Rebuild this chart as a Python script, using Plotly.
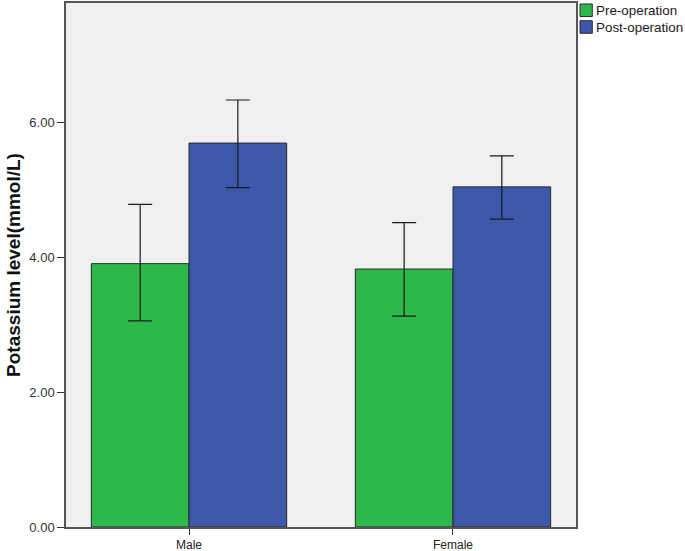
import plotly.graph_objects as go

# データ
categories = ["Male", "Female"]
pre_mean = [3.91, 3.83]
pre_upper = [4.79, 4.52]
pre_lower = [3.06, 3.13]
post_mean = [5.70, 5.05]
post_upper = [6.34, 5.51]
post_lower = [5.04, 4.57]
series_names = ["Pre-operation", "Post-operation"]
series_colors = ["#2eb84b", "#3d57a9"]

W, H = 685, 551
L, R, T, B = 66, 109, 3, 24

fig = go.Figure()

for name, color, m, up, lo in [
    (series_names[0], series_colors[0], pre_mean, pre_upper, pre_lower),
    (series_names[1], series_colors[1], post_mean, post_upper, post_lower),
]:
    fig.add_trace(go.Bar(
        x=categories, y=m, name=name,
        marker=dict(color=color, line=dict(color="#2b2b2b", width=1)),
        error_y=dict(
            type="data", symmetric=False,
            array=[u - v for u, v in zip(up, m)],
            arrayminus=[v - l for v, l in zip(m, lo)],
            color="#1a1a1a", thickness=1.2, width=12,
        ),
        showlegend=False,
    ))

# 凡例（手作り）
def px_to_paper(x, y):
    return (x - L) / (W - L - R), (H - B - y) / (H - T - B)

for i, (name, color) in enumerate(zip(series_names, series_colors)):
    y0 = 4 + i * 16.7
    xa, ya = px_to_paper(580, y0)
    xb, yb = px_to_paper(592.3, y0 + 12.6)
    fig.add_shape(type="rect", xref="paper", yref="paper", x0=xa, x1=xb, y0=ya, y1=yb,
                  fillcolor=color, line=dict(color="#2b2b2b", width=1))
    tx, ty = px_to_paper(594, y0 + 6.5)
    fig.add_annotation(xref="paper", yref="paper", x=tx, y=ty, text=name, showarrow=False,
                       xanchor="left", yanchor="middle",
                       font=dict(family="Arial", size=13.4, color="#1a1a1a"))

fig.update_layout(
    width=W, height=H,
    margin=dict(l=L, r=R, t=T, b=B),
    paper_bgcolor="white",
    plot_bgcolor="#f0f0f0",
    barmode="group",
    bargap=0.26,
    bargroupgap=0,
    font=dict(family="Arial", color="#333333"),
    xaxis=dict(
        range=[-0.466, 1.466],
        showline=True, mirror=True, linecolor="#555555", linewidth=1.5,
        ticks="outside", ticklen=6, tickcolor="#333333",
        tickfont=dict(size=12, color="#222222"),
        showgrid=False, zeroline=False,
        automargin=False,
    ),
    yaxis=dict(
        range=[0, 7.78],
        tickvals=[0, 2, 4, 6], tickformat=".2f",
        showline=True, mirror=True, linecolor="#555555", linewidth=1.5,
        ticks="outside", ticklen=7, tickcolor="#333333",
        tickfont=dict(size=13, color="#333333"),
        showgrid=False, zeroline=False,
        title=dict(text="<b>Potassium level(mmol/L)</b>",
                   font=dict(size=19, color="#111111"), standoff=4),
        automargin=False,
    ),
)

# ページ本体の余白を消す
fig.write_html("out.html", config={"displayModeBar": False},
               post_script="document.body.style.margin='0px';")
